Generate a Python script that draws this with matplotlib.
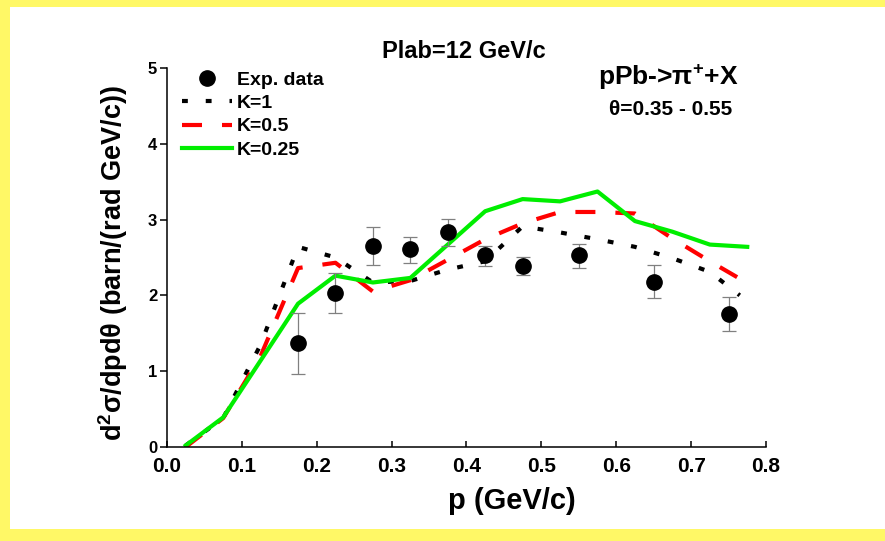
import matplotlib
matplotlib.use('Agg')
import matplotlib.pyplot as plt
from matplotlib.patches import Rectangle

plt.rcParams['font.family'] = ['Liberation Sans', 'DejaVu Sans']
plt.rcParams['font.weight'] = 'bold'
plt.rcParams['mathtext.fontset'] = 'custom'
plt.rcParams['mathtext.rm'] = 'Liberation Sans:bold'
plt.rcParams['mathtext.it'] = 'Liberation Sans:bold'
plt.rcParams['mathtext.bf'] = 'Liberation Sans:bold'

# experimental points
p_exp = [0.175, 0.225, 0.275, 0.325, 0.375, 0.425, 0.475, 0.55, 0.65, 0.75]
y_exp = [1.37, 2.03, 2.65, 2.61, 2.83, 2.53, 2.39, 2.53, 2.18, 1.75]
err_lo = [0.41, 0.26, 0.25, 0.18, 0.18, 0.14, 0.12, 0.17, 0.22, 0.22]
err_hi = [0.40, 0.26, 0.25, 0.16, 0.18, 0.12, 0.12, 0.15, 0.22, 0.23]

# model curves
p_k025 = [0.025, 0.075, 0.125, 0.175, 0.225, 0.275, 0.325, 0.375,
          0.425, 0.475, 0.525, 0.575, 0.625, 0.675, 0.725, 0.775]
p_k1 = [0.025, 0.075, 0.125, 0.175, 0.225, 0.275, 0.325, 0.375,
        0.425, 0.475, 0.525, 0.575, 0.625, 0.675, 0.725, 0.765]
p_k05 = p_k1
y_k1 = [0.02, 0.38, 1.35, 2.64, 2.50, 2.17, 2.19, 2.34,
        2.45, 2.91, 2.83, 2.74, 2.64, 2.49, 2.31, 2.00]
y_k05 = [0.00, 0.38, 1.20, 2.36, 2.43, 2.05, 2.20, 2.47,
         2.74, 2.95, 3.10, 3.10, 3.08, 2.75, 2.45, 2.22]
y_k025 = [0.02, 0.39, 1.14, 1.89, 2.26, 2.17, 2.23, 2.67,
          3.11, 3.27, 3.24, 3.37, 2.98, 2.84, 2.67, 2.64]

fig = plt.figure(figsize=(8.85, 5.41), dpi=100, facecolor='#fff866')
# white page inside the yellow frame
fig.patches.append(Rectangle((0.0113, 0.0222), 0.9887, 0.965,
                             transform=fig.transFigure, facecolor='white',
                             edgecolor='none', zorder=-10))
ax = fig.add_axes([0.1887, 0.1738, 0.6768, 0.7006])
ax.set_facecolor('none')

l1, = ax.plot(p_k1, y_k1, color='black', lw=3, dashes=(1.4, 4.3), label='K=1')
l2, = ax.plot(p_k05, y_k05, color='#ff0000', lw=3, dashes=(4.8, 4.8), label='K=0.5')
l3, = ax.plot(p_k025, y_k025, color='#00ee00', lw=3, label='K=0.25')
ax.errorbar(p_exp, y_exp, yerr=[err_lo, err_hi], fmt='none', ecolor='#808080',
            elinewidth=0.9, capsize=5, capthick=0.9, zorder=4)
m, = ax.plot(p_exp, y_exp, 'o', color='black', ms=11, ls='none',
             label='Exp. data', zorder=5)

ax.set_xlim(0, 0.8)
ax.set_ylim(0, 5)
ax.set_xticks([0.0, 0.1, 0.2, 0.3, 0.4, 0.5, 0.6, 0.7, 0.8])
ax.set_yticks([0, 1, 2, 3, 4, 5])
for s in ['top', 'right']:
    ax.spines[s].set_visible(False)
for s in ['left', 'bottom']:
    ax.spines[s].set_linewidth(1.1)
ax.tick_params(axis='x', direction='in', length=4, width=1.1, labelsize=15, pad=7)
ax.tick_params(axis='y', direction='out', length=5, width=1.1, labelsize=12, pad=2)

ax.set_xlabel('p (GeV/c)', fontsize=21, fontweight='bold')
ax.xaxis.set_label_coords(0.576, -0.164)
ax.xaxis.label.set_va('baseline')
ax.set_ylabel(r'd$^{2}$σ/dpdθ (barn/(rad GeV/c))', fontsize=19.5, fontweight='bold')
ax.yaxis.set_label_coords(-0.09, 0.485)
ax.yaxis.label.set_va('center')

ax.legend(handles=[m, l1, l2, l3], loc='upper left', bbox_to_anchor=(0.025, 0.992),
          frameon=False, fontsize=14, handlelength=2.58, handletextpad=0.26,
          labelspacing=0.3, borderpad=0, borderaxespad=0, numpoints=1)

fig.text(0.524, 0.892, 'Plab=12 GeV/c', ha='center', va='baseline', fontsize=17)
fig.text(0.755, 0.843, r'pPb->π$^{+}$+X', ha='center', va='baseline', fontsize=19)
fig.text(0.758, 0.787, 'θ=0.35 - 0.55', ha='center', va='baseline', fontsize=15)

fig.savefig('out.png', dpi=100, facecolor=fig.get_facecolor())
